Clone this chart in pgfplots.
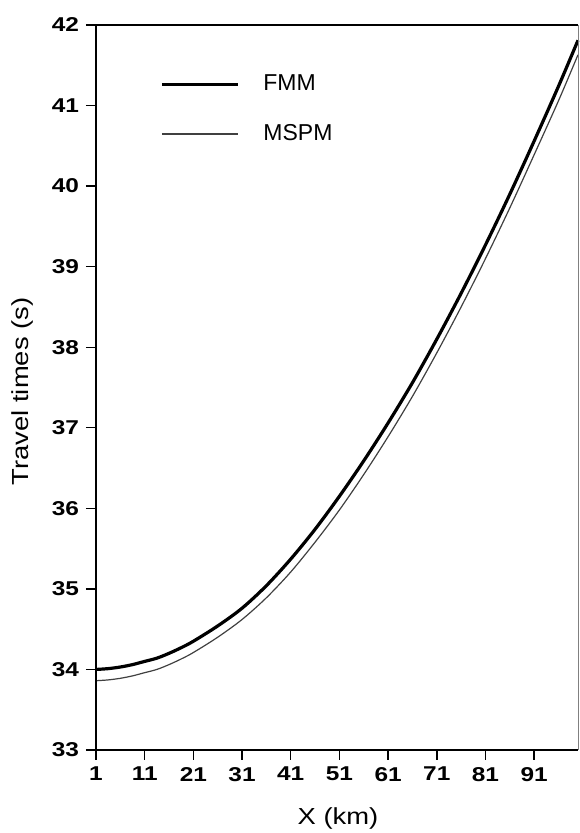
\documentclass[border=0pt]{standalone}
\usepackage{fontspec}
\setmainfont{Liberation Sans}
\newfontfamily\tickfont[FakeStretch=1.22]{Liberation Sans}
\newfontfamily\labfont[FakeStretch=1.18]{Liberation Sans}
\usepackage{pgfplots}
\pgfplotsset{compat=1.18}

% travel times
\pgfplotstableread{
x    fmm    mspm
1    34.00  33.86
3.5  34.01  33.87
6    34.03  33.89
8.5  34.06  33.92
11   34.10  33.96
13.5 34.14  34.00
16   34.20  34.06
18.5 34.27  34.13
21   34.35  34.21
26   34.54  34.40
31   34.76  34.62
36   35.04  34.89
41   35.37  35.21
46   35.74  35.58
51   36.15  35.98
56   36.59  36.42
61   37.06  36.89
66   37.56  37.39
71   38.10  37.93
76   38.67  38.50
81   39.27  39.10
86   39.90  39.73
91   40.56  40.39
96   41.24  41.06
100  41.81  41.63
}\tt

\begin{document}
\begin{tikzpicture}
\useasboundingbox (-48pt,-41.5pt) rectangle (241.5pt,375pt);
\begin{axis}[
    scale only axis,
    width=241pt, height=362.5pt,
    xmin=1, xmax=100, ymin=33, ymax=42,
    clip=false,
    xtick={1,11,...,91}, ytick={33,...,42},
    axis line style={draw=none},
    xtick pos=lower, ytick pos=lower,
    tick align=outside, major tick length=5pt,
    tick style={black, line width=0.7pt},
    /pgf/number format/assume math mode=true,
    tick label style={font=\tickfont\bfseries\fontsize{10}{12}\selectfont},
    xlabel={X (km)}, ylabel={Travel times (s)},
    every axis x label/.style={at={(axis description cs:0.502,-0.1034)}, anchor=base,
        font=\labfont\fontsize{11.6}{13}\selectfont},
    every axis y label/.style={at={(axis description cs:-0.1515,0.4945)}, anchor=center, rotate=90,
        font=\labfont\fontsize{11.6}{13}\selectfont},
    legend style={at={(axis description cs:0.12,0.943)}, anchor=north west,
        draw=none, fill=none, font=\fontsize{11.5}{13}\selectfont,
        row sep=11.5pt, cells={anchor=west}},
    legend image code/.code={\draw[#1] (0pt,0pt) -- (38pt,0pt); \path (48pt,0pt);},
]
\addplot[black, line width=1.6pt, smooth] table[x=x, y=fmm] {\tt};
\addlegendentry{FMM}
\addplot[black!75, line width=0.6pt, smooth] table[x=x, y=mspm] {\tt};
\addlegendentry{MSPM}
\draw[black, line width=1.3pt] (rel axis cs:0,0) -- (rel axis cs:0,1) -- (rel axis cs:1,1);
\draw[black, line width=1.3pt] (rel axis cs:0,0) -- (rel axis cs:1,0);
\draw[gray, line width=0.4pt] (rel axis cs:1,0) -- (rel axis cs:1,1);
\end{axis}
\end{tikzpicture}
\end{document}
